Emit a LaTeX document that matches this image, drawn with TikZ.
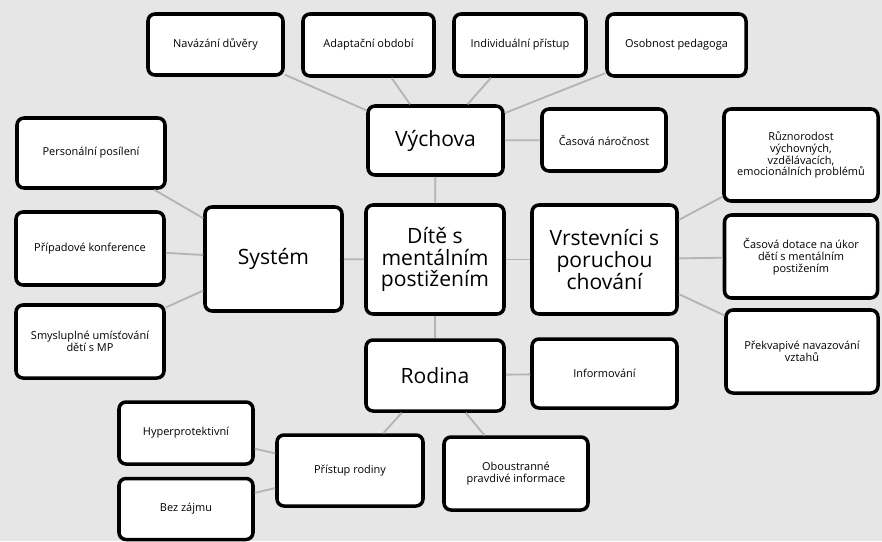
\documentclass[tikz,border=0pt]{standalone}
\usepackage{fontspec}
\setmainfont{Open Sans}
\usepackage{tikz}
\definecolor{canvas}{RGB}{230,230,230}
\definecolor{branch}{RGB}{180,180,180}

\begin{document}
\begin{tikzpicture}[x=0.025cm, y=-0.025cm,
        boxsize/.style 2 args={minimum width=#1*0.025cm, minimum height=#2*0.025cm},
        box/.style={draw=black, fill=white, line width=2.5pt, rounded corners=5pt,
            align=center, inner sep=2pt},
        leaf/.style={box, font=\fontsize{7.8}{8.4}\selectfont},
        topic/.style={box, font=\fontsize{15}{15.5}\selectfont},
        link/.style={draw=branch, line width=1.3pt}]
            \fill[canvas] (0, 0) rectangle (882, 541);
            \useasboundingbox (0, 0) rectangle (882, 541);

            \node[topic, boxsize={138}{109}] (dite) at (435, 259.5)
                {Dítě s\\mentálním\\postižením};
            \node[topic, boxsize={135}{69}] (vychova) at (435.5, 140.5) {Výchova};
            \node[topic, boxsize={137}{104}] (system) at (273.5, 259) {Systém};
            \node[topic, boxsize={145}{109}] (vrstevnici) at (604.5, 259.5)
                {Vrstevníci s\\poruchou\\chování};
            \node[topic, boxsize={138}{71}] (rodina) at (435, 375.5) {Rodina};

            \node[leaf, boxsize={135}{61}] (navazani) at (215.5, 44.5) {Navázání důvěry};
            \node[leaf, boxsize={131}{62}] (adaptace) at (368.5, 45) {Adaptační období};
            \node[leaf, boxsize={132}{62}] (pristup) at (520, 45) {Individuální přístup};
            \node[leaf, boxsize={139}{62}] (osobnost) at (676.5, 45) {Osobnost pedagoga};
            \node[leaf, boxsize={124}{62}] (narocnost) at (604, 140) {Časová náročnost};
            \node[leaf, boxsize={154}{92}] (ruznorodost) at (801, 155)
                {Různorodost\\výchovných,\\vzdělávacích,\\emocionálních problémů};
            \node[leaf, boxsize={153}{83}] (dotace) at (801, 256.5)
                {Časová dotace na úkor\\dětí s mentálním\\postižením};
            \node[leaf, boxsize={152}{83}] (prekvapeni) at (802, 351.5)
                {Překvapivé navazování\\vztahů};

            \node[leaf, boxsize={148}{70}] (posileni) at (91, 153) {Personální posílení};
            \node[leaf, boxsize={148}{73}] (konference) at (90, 248.5) {Případové konference};
            \node[leaf, boxsize={148}{73}] (umistovani) at (90, 341.5)
                {Smysluplné umísťování\\dětí s MP};

            \node[leaf, boxsize={145}{69}] (informovani) at (604.5, 373.5) {Informování};
            \node[leaf, boxsize={146}{71}] (rodiny) at (350, 470.5) {Přístup rodiny};
            \node[leaf, boxsize={144}{73}] (oboustranne) at (516, 473.5)
                {Oboustranné\\pravdivé informace};
            \node[leaf, boxsize={134}{62}] (hyper) at (186, 433) {Hyperprotektivní};
            \node[leaf, boxsize={134}{61}] (nezajem) at (186, 509) {Bez zájmu};

            % spojnice
            \path[link] (dite) -- (vychova);
            \path[link] (dite) -- (system);
            \path[link] (dite) -- (vrstevnici);
            \path[link] (dite) -- (rodina);

            \path[link] (vychova) -- (navazani);
            \path[link] (vychova) -- (adaptace);
            \path[link] (vychova) -- (pristup);
            \path[link] (vychova) -- (osobnost);
            \path[link] (vychova) -- (narocnost);

            \path[link] (system) -- (posileni);
            \path[link] (system) -- (konference);
            \path[link] (system) -- (umistovani);

            \path[link] (vrstevnici) -- (ruznorodost);
            \path[link] (vrstevnici) -- (dotace);
            \path[link] (vrstevnici) -- (prekvapeni);

            \path[link] (rodina) -- (informovani);
            \path[link] (rodina) -- (rodiny);
            \path[link] (rodina) -- (oboustranne);
            \path[link] (rodiny) -- (hyper);
            \path[link] (rodiny) -- (nezajem);
        \end{tikzpicture}
\end{document}
